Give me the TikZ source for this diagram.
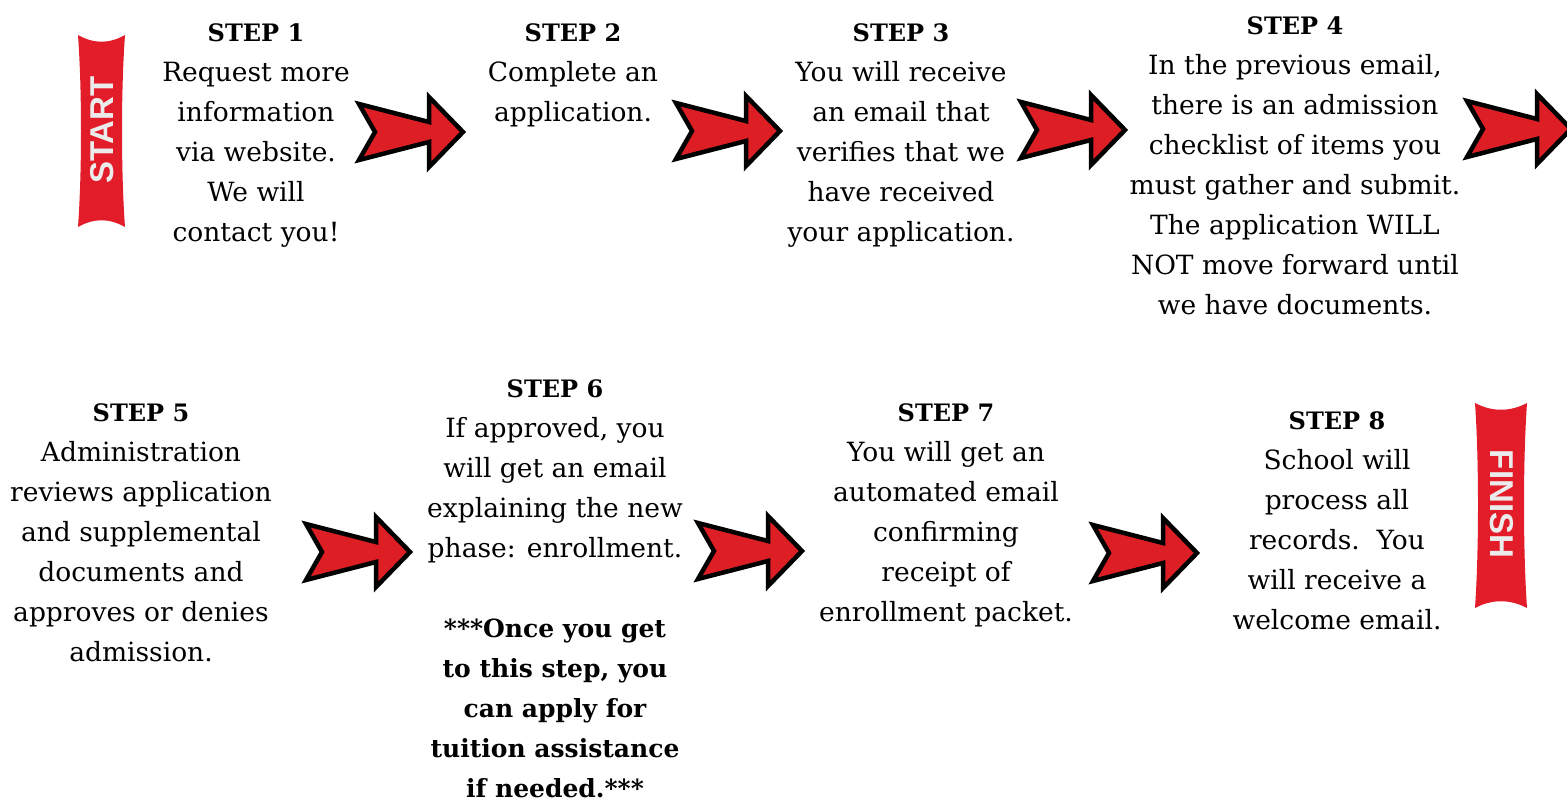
\documentclass[tikz,border=0pt]{standalone}
\usepackage{fontspec}
\setmainfont{DejaVu Serif}
\newfontfamily\bannerfont{Liberation Sans}
\usetikzlibrary{positioning}
\definecolor{arrowred}{RGB}{221,30,36}
\definecolor{bannerred}{RGB}{226,28,40}
\newcommand{\steptitle}[1]{{\fontsize{24}{40}\selectfont\bfseries #1}}
\newcommand{\stepnote}[1]{{\fontsize{25}{40}\selectfont\bfseries #1}}

\begin{document}
\begin{tikzpicture}[
    x=1pt, y=-1pt,
    stepbox/.style={align=center, inner sep=0pt, anchor=north, font=\fontsize{26.5}{40}\selectfont},
    bannertext/.style={font=\bannerfont\bfseries\fontsize{33}{33}\selectfont, text=white!92!black, inner sep=0pt},
    redarrow/.pic={
        \draw[fill=arrowred, line width=4.5pt, line join=miter]
            (-104,-28) -- (-34,-10) -- (-34,-35) -- (0,0) -- (-34,35) -- (-34,10) -- (-104,28) -- (-88,0) -- cycle;
    }
]
    \useasboundingbox (0,0) rectangle (1567,802);
    \clip (0,0) rectangle (1567,802);

    % banners
    \fill[bannerred] (78,35) .. controls (94,44) and (109,44) .. (125,35)
        .. controls (121,90) and (121,172) .. (125,227)
        .. controls (109,218) and (94,218) .. (78,227)
        .. controls (82,172) and (82,90) .. (78,35);
    \node[bannertext, rotate=90] (start) at (102,130) {START};

    \fill[bannerred] (1475,403) .. controls (1492,412) and (1510,412) .. (1527,403)
        .. controls (1523,460) and (1523,550) .. (1527,608)
        .. controls (1510,599) and (1492,599) .. (1475,608)
        .. controls (1479,550) and (1479,460) .. (1475,403);
    \node[bannertext, rotate=-90] (finish) at (1502,504) {FINISH};

    % first row
    \node[stepbox] (step1) at (256,23.5) {\steptitle{STEP 1}\\Request more\\information\\via website.\\We will\\contact you!};
    \node[stepbox] (step2) at (573,23.5) {\steptitle{STEP 2}\\Complete an\\application.};
    \node[stepbox] (step3) at (901,23.5) {\steptitle{STEP 3}\\You will receive\\an email that\\verifies that we\\have received\\your application.};
    \node[stepbox] (step4) at (1295,16) {\steptitle{STEP 4}\\In the previous email,\\there is an admission\\checklist of items you\\must gather and submit.\\The application WILL\\NOT move forward until\\we have documents.};

    \pic (arr1) at (463,132) {redarrow};
    \pic (arr2) at (780,131) {redarrow};
    \pic (arr3) at (1125,130) {redarrow};
    \pic (arr4) at (1571,129) {redarrow};

    % second row
    \node[stepbox] (step5) at (141,403) {\steptitle{STEP 5}\\Administration\\reviews application\\and supplemental\\documents and\\approves or denies\\admission.};
    \node[stepbox] (step6) at (555,379.5) {\steptitle{STEP 6}\\If approved, you\\will get an email\\explaining the new\\phase: enrollment.\\[40pt]
        \stepnote{***Once you get}\\\stepnote{to this step, you}\\\stepnote{can apply for}\\\stepnote{tuition assistance}\\\stepnote{if needed.***}};
    \node[stepbox] (step7) at (946,403) {\steptitle{STEP 7}\\You will get an\\automated email\\confirming\\receipt of\\enrollment packet.};
    \node[stepbox] (step8) at (1337,411) {\steptitle{STEP 8}\\School will\\process all\\records.\ \ You\\will receive a\\welcome email.};

    \pic (arr5) at (410,552) {redarrow};
    \pic (arr6) at (802,551) {redarrow};
    \pic (arr7) at (1197,553) {redarrow};
\end{tikzpicture}
\end{document}
